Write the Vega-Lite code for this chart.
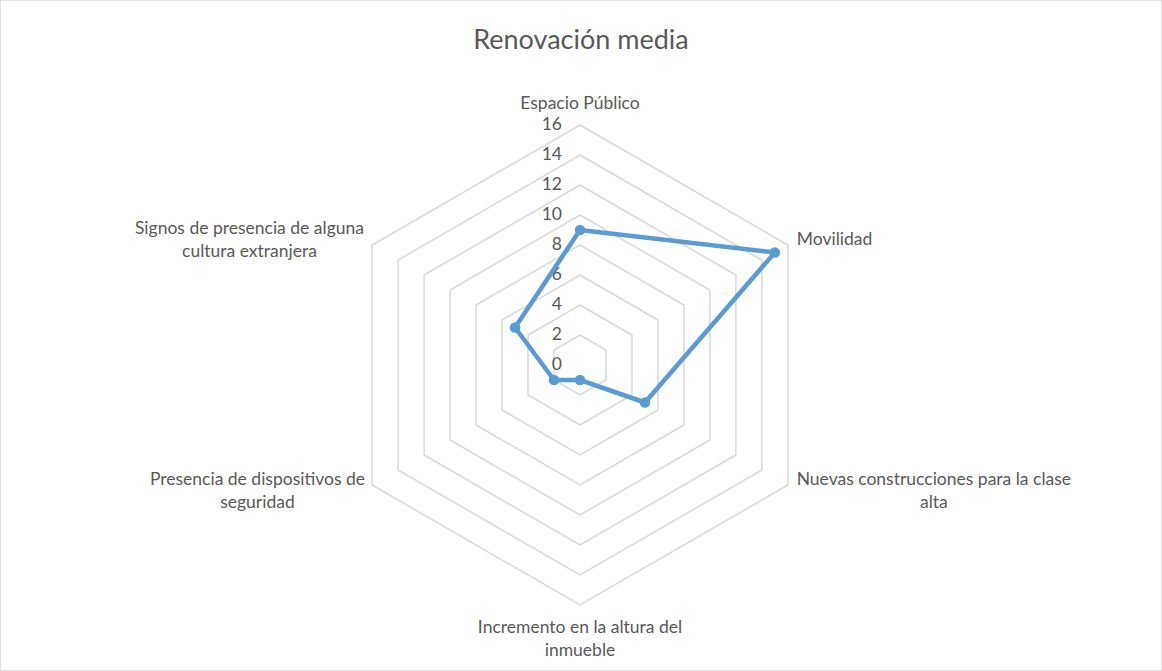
{
  "$schema": "https://vega.github.io/schema/vega-lite/v6.json",
  "width": 1162,
  "height": 671,
  "autosize": {"type": "none"},
  "padding": 0,
  "background": "white",
  "title": {"text": "Renovación media", "font": "Lato", "fontSize": 27, "fontWeight": "normal", "color": "#595959", "offset": -55, "anchor": "middle"},
  "config": {"view": {"stroke": "#d9d9d9", "strokeWidth": 1.5}},
  "datasets": {
    "vals": [
      {"k": 0, "label": "Espacio Público", "v": 9},
      {"k": 1, "label": "Movilidad", "v": 15},
      {"k": 2, "label": "Nuevas construcciones para la clase\nalta", "v": 5},
      {"k": 3, "label": "Incremento en la altura del\ninmueble", "v": 1},
      {"k": 4, "label": "Presencia de dispositivos de\nseguridad", "v": 2},
      {"k": 5, "label": "Signos de presencia de alguna\ncultura extranjera", "v": 5}
    ],
    "grid": [
      {"level": 2, "k": [0, 1, 2, 3, 4, 5]},
      {"level": 4, "k": [0, 1, 2, 3, 4, 5]},
      {"level": 6, "k": [0, 1, 2, 3, 4, 5]},
      {"level": 8, "k": [0, 1, 2, 3, 4, 5]},
      {"level": 10, "k": [0, 1, 2, 3, 4, 5]},
      {"level": 12, "k": [0, 1, 2, 3, 4, 5]},
      {"level": 14, "k": [0, 1, 2, 3, 4, 5]},
      {"level": 16, "k": [0, 1, 2, 3, 4, 5]}
    ],
    "ticks": [{"t": 0}, {"t": 2}, {"t": 4}, {"t": 6}, {"t": 8}, {"t": 10}, {"t": 12}, {"t": 14}, {"t": 16}]
  },
  "layer": [
    {
      "data": {"name": "grid"},
      "transform": [
        {"flatten": ["k"]},
        {"calculate": "datum.level*cos(PI/2 - datum.k*PI/3)", "as": "x"},
        {"calculate": "datum.level*sin(PI/2 - datum.k*PI/3)", "as": "y"}
      ],
      "mark": {"type": "line", "interpolate": "linear-closed", "stroke": "#d9d9d9", "strokeWidth": 1.5},
      "encoding": {
        "x": {"field": "x", "type": "quantitative", "scale": {"domain": [-38.6667, 38.8], "nice": false, "zero": false}, "axis": null},
        "y": {"field": "y", "type": "quantitative", "scale": {"domain": [-20.4, 24.3333], "nice": false, "zero": false}, "axis": null},
        "detail": {"field": "level", "type": "nominal"},
        "order": {"field": "k", "type": "quantitative"}
      }
    },
    {
      "data": {"name": "ticks"},
      "mark": {"type": "text", "font": "Lato", "fontSize": 17.5, "color": "#595959", "align": "right", "baseline": "middle", "dx": -18},
      "encoding": {
        "x": {"datum": 0, "type": "quantitative", "axis": null},
        "y": {"field": "t", "type": "quantitative", "axis": null},
        "text": {"field": "t", "type": "quantitative"}
      }
    },
    {
      "data": {"name": "vals"},
      "transform": [
        {"calculate": "datum.v*cos(PI/2 - datum.k*PI/3)", "as": "x"},
        {"calculate": "datum.v*sin(PI/2 - datum.k*PI/3)", "as": "y"}
      ],
      "layer": [
        {
          "mark": {"type": "line", "interpolate": "linear-closed", "stroke": "#5B9BD5", "strokeWidth": 4.5, "strokeJoin": "round"},
          "encoding": {
            "x": {"field": "x", "type": "quantitative", "axis": null},
            "y": {"field": "y", "type": "quantitative", "axis": null},
            "order": {"field": "k", "type": "quantitative"}
          }
        },
        {
          "mark": {"type": "point", "filled": true, "shape": "circle", "size": 110, "color": "#5B9BD5", "opacity": 1},
          "encoding": {
            "x": {"field": "x", "type": "quantitative", "axis": null},
            "y": {"field": "y", "type": "quantitative", "axis": null}
          }
        }
      ]
    },
    {
      "data": {"name": "vals"},
      "transform": [
        {"calculate": "16*cos(PI/2 - datum.k*PI/3)", "as": "x"},
        {"calculate": "16*sin(PI/2 - datum.k*PI/3)", "as": "y"}
      ],
      "layer": [
        {
          "transform": [{"filter": "datum.k == 0"}],
          "mark": {"type": "text", "font": "Lato", "fontSize": 17.5, "color": "#595959", "lineBreak": "\n", "lineHeight": 23, "align": "center", "baseline": "middle", "dy": -21},
          "encoding": {"x": {"field": "x", "type": "quantitative", "axis": null}, "y": {"field": "y", "type": "quantitative", "axis": null}, "text": {"field": "label"}}
        },
        {
          "transform": [{"filter": "datum.k == 1"}],
          "mark": {"type": "text", "font": "Lato", "fontSize": 17.5, "color": "#595959", "lineBreak": "\n", "lineHeight": 23, "align": "left", "baseline": "middle", "dx": 9, "dy": -5},
          "encoding": {"x": {"field": "x", "type": "quantitative", "axis": null}, "y": {"field": "y", "type": "quantitative", "axis": null}, "text": {"field": "label"}}
        },
        {
          "transform": [{"filter": "datum.k == 2"}],
          "mark": {"type": "text", "font": "Lato", "fontSize": 17.5, "color": "#595959", "lineBreak": "\n", "lineHeight": 23, "align": "center", "baseline": "middle", "dx": 146, "dy": -5},
          "encoding": {"x": {"field": "x", "type": "quantitative", "axis": null}, "y": {"field": "y", "type": "quantitative", "axis": null}, "text": {"field": "label"}}
        },
        {
          "transform": [{"filter": "datum.k == 3"}],
          "mark": {"type": "text", "font": "Lato", "fontSize": 17.5, "color": "#595959", "lineBreak": "\n", "lineHeight": 23, "align": "center", "baseline": "middle", "dy": 23},
          "encoding": {"x": {"field": "x", "type": "quantitative", "axis": null}, "y": {"field": "y", "type": "quantitative", "axis": null}, "text": {"field": "label"}}
        },
        {
          "transform": [{"filter": "datum.k == 4"}],
          "mark": {"type": "text", "font": "Lato", "fontSize": 17.5, "color": "#595959", "lineBreak": "\n", "lineHeight": 23, "align": "center", "baseline": "middle", "dx": -114.7, "dy": -5},
          "encoding": {"x": {"field": "x", "type": "quantitative", "axis": null}, "y": {"field": "y", "type": "quantitative", "axis": null}, "text": {"field": "label"}}
        },
        {
          "transform": [{"filter": "datum.k == 5"}],
          "mark": {"type": "text", "font": "Lato", "fontSize": 17.5, "color": "#595959", "lineBreak": "\n", "lineHeight": 23, "align": "center", "baseline": "middle", "dx": -122.7, "dy": -16},
          "encoding": {"x": {"field": "x", "type": "quantitative", "axis": null}, "y": {"field": "y", "type": "quantitative", "axis": null}, "text": {"field": "label"}}
        }
      ]
    }
  ]
}
